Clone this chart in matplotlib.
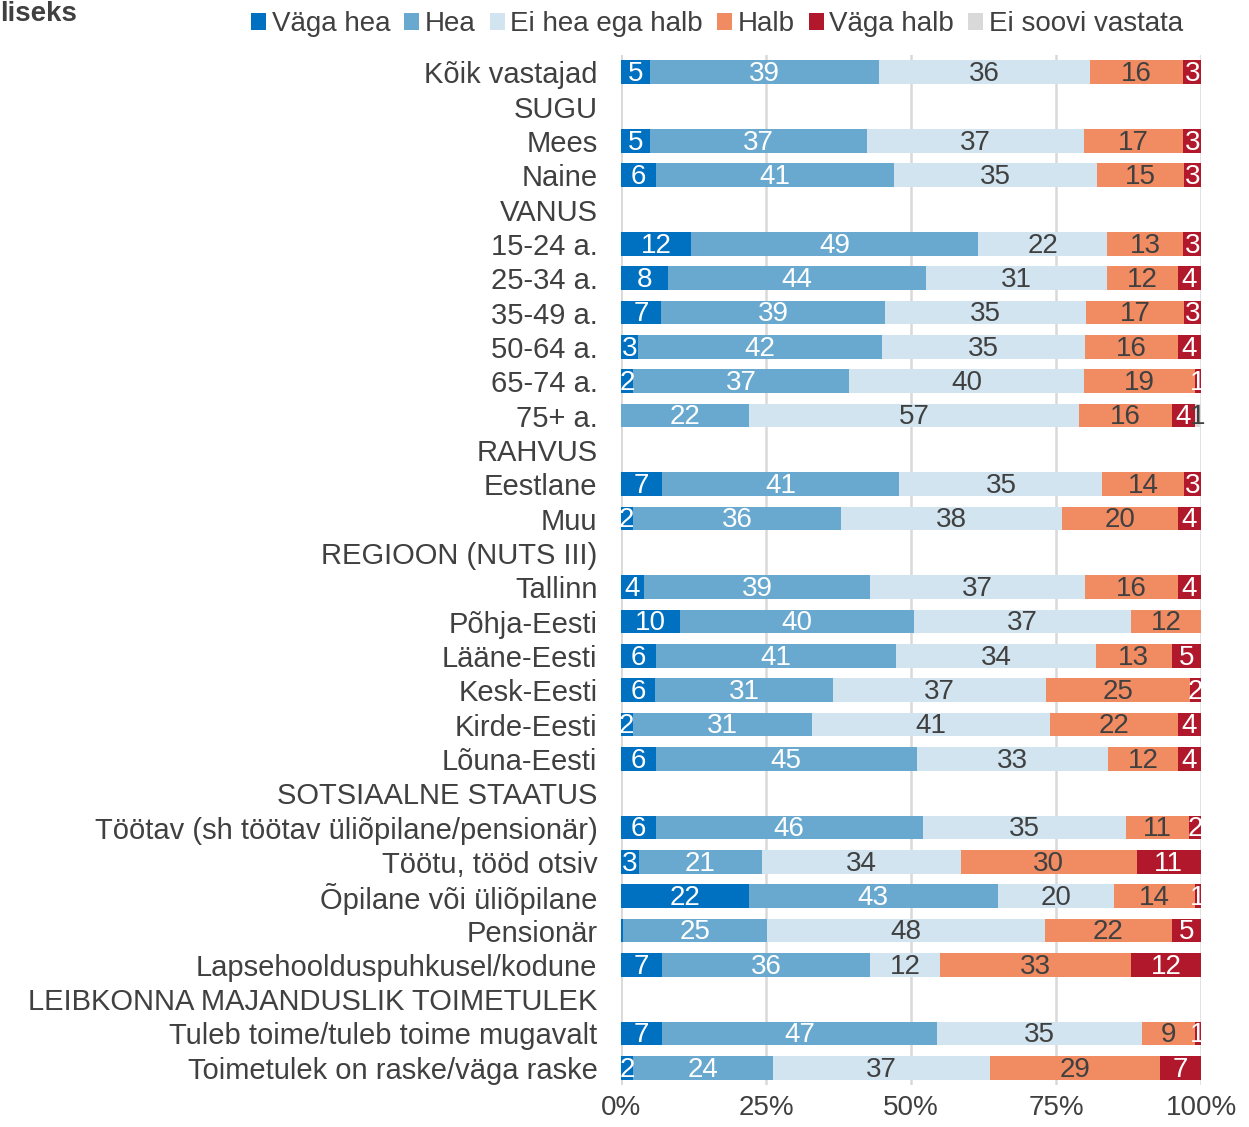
import numpy as np
import matplotlib
matplotlib.use("Agg")
import matplotlib.pyplot as plt
from matplotlib.patches import Patch

plt.rcParams['font.family'] = ['Liberation Sans', 'DejaVu Sans']

categories = [
    "Kõik vastajad", "SUGU", "Mees", "Naine", "VANUS",
    "15-24 a.", "25-34 a.", "35-49 a.", "50-64 a.", "65-74 a.", "75+ a.",
    "RAHVUS", "Eestlane", "Muu", "REGIOON (NUTS III)",
    "Tallinn", "Põhja-Eesti", "Lääne-Eesti", "Kesk-Eesti", "Kirde-Eesti", "Lõuna-Eesti",
    "SOTSIAALNE STAATUS",
    "Töötav (sh töötav üliõpilane/pensionär)", "Töötu, tööd otsiv",
    "Õpilane või üliõpilane", "Pensionär", "Lapsehoolduspuhkusel/kodune",
    "LEIBKONNA MAJANDUSLIK TOIMETULEK",
    "Tuleb toime/tuleb toime mugavalt", "Toimetulek on raske/väga raske",
]
series = ["Väga hea", "Hea", "Ei hea ega halb", "Halb", "Väga halb", "Ei soovi vastata"]

n = np.nan
vaga_hea = [5, n, 5, 6, n, 12, 8, 7, 3, 2, 0, n, 7, 2, n, 4, 10, 6, 6, 2, 6, n, 6, 3, 22, 0.3, 7, n, 7, 2]
hea      = [39, n, 37, 41, n, 49, 44, 39, 42, 37, 22, n, 41, 36, n, 39, 40, 41, 31, 31, 45, n, 46, 21, 43, 25, 36, n, 47, 24]
neutral  = [36, n, 37, 35, n, 22, 31, 35, 35, 40, 57, n, 35, 38, n, 37, 37, 34, 37, 41, 33, n, 35, 34, 20, 48, 12, n, 35, 37]
halb     = [16, n, 17, 15, n, 13, 12, 17, 16, 19, 16, n, 14, 20, n, 16, 12, 13, 25, 22, 12, n, 11, 30, 14, 22, 33, n, 9, 29]
vaga_halb = [3, n, 3, 3, n, 3, 4, 3, 4, 1, 4, n, 3, 4, n, 4, 0, 5, 2, 4, 4, n, 2, 11, 1, 5, 12, n, 1, 7]
ei_soovi = [0, n, 0, 0, n, 0, 0, 0, 0, 0, 1, n, 0, 0, n, 0, 0, 0, 0, 0, 0, n, 0, 0, 0, 0, 0, n, 0, 0]

colors = ["#0070C0", "#69A9D0", "#D1E4F0", "#F08B62", "#B2182B", "#D9D9D9"]
text_colors = ["white", "white", "#404040", "#404040", "white", "#404040"]

data = np.array([vaga_hea, hea, neutral, halb, vaga_halb, ei_soovi], dtype=float)
totals = np.nansum(data, axis=0)

W, H = 1249, 1127
fig = plt.figure(figsize=(W / 100, H / 100), dpi=100)
ax = fig.add_axes([621 / W, 1 - 1085 / H, 580 / W, 1030 / H])

y = np.arange(len(categories))
left = np.zeros(len(categories))
for s, vals in enumerate(data):
    for i, v in enumerate(vals):
        if np.isnan(v) or v <= 0:
            continue
        w = v / totals[i] * 100
        ax.barh(y[i], w, left=left[i], height=0.68, color=colors[s], edgecolor="none", zorder=2)
        if v >= 1:
            ax.text(left[i] + w / 2, y[i] + 0.05, f"{v:.0f}", ha="center", va="center",
                    fontsize=20, color=text_colors[s], zorder=3)
        left[i] += w

ax.set_xlim(0, 100)
ax.set_ylim(len(categories) - 0.5, -0.5)
ax.set_yticks(y)
ax.set_yticklabels(categories, fontsize=21, color="#404040")
ax.set_xticks([0, 25, 50, 75, 100])
ax.set_xticklabels(["0%", "25%", "50%", "75%", "100%"], fontsize=20, color="#404040")
ax.tick_params(length=0)
ax.tick_params(axis="y", pad=17)
ax.tick_params(axis="x", pad=7)
ax.grid(axis="x", color="#D9D9D9", linewidth=1.8, zorder=0)
for sp in ax.spines.values():
    sp.set_visible(False)
ax.axvline(0, color="#D9D9D9", linewidth=1.8, zorder=0)

handles = [Patch(facecolor=c, edgecolor="none") for c in colors]
fig.legend(handles, series, loc="upper right", bbox_to_anchor=(1208 / W, 1.012), ncol=6,
           frameon=False, fontsize=20, handlelength=0.55, handleheight=0.55,
           handletextpad=0.2, columnspacing=0.5, labelcolor="#404040")

fig.text(0.0, 0.988, "liseks", fontsize=20, fontweight="bold", color="#404040",
         ha="left", va="center")

fig.savefig("out.png", dpi=100)
